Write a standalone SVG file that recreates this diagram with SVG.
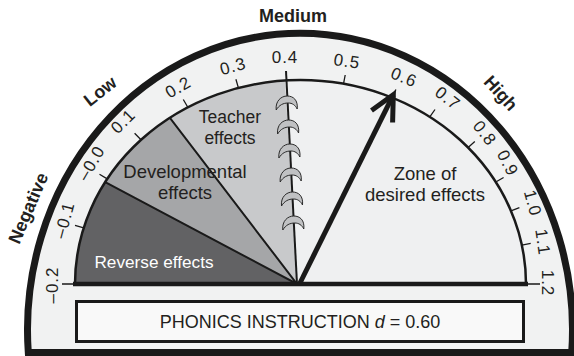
<svg xmlns="http://www.w3.org/2000/svg" width="574" height="356" viewBox="0 0 574 356">
<defs>
<style>
text{font-family:"Liberation Sans",Arial,Helvetica,sans-serif;fill:#231f20}
.cat{font-size:18px;font-weight:bold;text-anchor:middle}
.tk{font-size:17px;text-anchor:middle;letter-spacing:1px}
.lbl{font-size:17.5px;text-anchor:middle}
.ln{stroke:#1a1a1a;fill:none}
.hk{fill:#c0c1c3;stroke:#2a2a2a;stroke-width:1}
</style>
<clipPath id="inner"><path d="M75,284 A225.5 204 0 0 1 526,284 Z"/></clipPath>
<path id="hook" d="M-11,7 C-12,-2 -6,-7 0,-7 C6,-7 11,-3 10,6 C8,2 5,0 1,0 C-4,0 -8,2 -11,7 Z"/>
</defs>
<rect width="574" height="356" fill="#fff"/>
<g id="frame">
<path d="M28.3,352.5 A272.5 296.5 0 1 1 571.7,352.5 Z" fill="#f1f2f2" stroke="#1a1a1a" stroke-width="7"/>
</g>
<g id="zones" clip-path="url(#inner)">
<path d="M75,284 A225.5 204 0 0 1 526,284 Z" fill="#eff0f1"/>
<polygon id="reverse-zone" points="297,284 -300,284 -273,-19" fill="#626264"/>
<polygon id="developmental-zone" points="297,284 -273,-19 -84,-214" fill="#a5a6a8"/>
<polygon id="teacher-zone" points="297,284 -84,-214 261,-328" fill="#c8c9cb"/>
<path class="ln" stroke-width="2" d="M297,284 L-273,-19 M297,284 L-84,-214"/>
</g>
<g id="scale">
<path class="ln" stroke-width="2.5" d="M75,284 A225.5 204 0 0 1 526,284"/>
<path class="ln" stroke-width="1.3" d="M75,284 L62,284 M83.7,227.8 L75,225.3 M107.2,178.9 L99.5,174.3 M141,139.7 L134.6,133.3 M187.8,107.3 L183.3,99.5 M238.4,87.9 L235.9,79.2 M343.5,83.8 L345.2,75 M392.2,97.6 L395.9,89.4 M429.8,116.9 L435,109.5 M468.1,147.5 L474.8,141.5 M495.8,182 L503.6,177.5 M511,210.9 L519.4,207.7 M521.9,245.1 L530.7,243.4 M526,284 L540,284"/>
<line class="ln" x1="73" y1="284" x2="528" y2="284" stroke-width="4.5"/>
</g>
<g id="ribbon">
<line class="ln" x1="297" y1="284" x2="286" y2="71" stroke-width="2"/>
<use href="#hook" class="hk" x="287.2" y="103"/>
<use href="#hook" class="hk" x="288.6" y="127"/>
<use href="#hook" class="hk" x="289.9" y="151"/>
<use href="#hook" class="hk" x="291.2" y="175"/>
<use href="#hook" class="hk" x="292.5" y="199"/>
<use href="#hook" class="hk" x="293.8" y="223"/>
</g>
<g id="connectors">
<line class="ln" x1="300" y1="283" x2="393.3" y2="94.8" stroke-width="5"/>
<polyline class="ln" points="371.5,110.5 393.3,94.8 392.6,122.5" stroke-width="5" stroke-linejoin="miter"/>
</g>
<g id="tick-labels">
<text class="tk" transform="translate(52,285) rotate(-90)" y="6">–0.2</text>
<text class="tk" transform="translate(64,220) rotate(-75)" y="6">–0.1</text>
<text class="tk" transform="translate(91,163) rotate(-60)" y="6">–0.0</text>
<text class="tk" transform="translate(123,121) rotate(-45)" y="6">0.1</text>
<text class="tk" transform="translate(178,87) rotate(-30)" y="6">0.2</text>
<text class="tk" transform="translate(233,66) rotate(-15)" y="6">0.3</text>
<text class="tk" transform="translate(285,57)" y="6">0.4</text>
<text class="tk" transform="translate(347,61) rotate(8)" y="6">0.5</text>
<text class="tk" transform="translate(404,77) rotate(22)" y="6">0.6</text>
<text class="tk" transform="translate(448,98) rotate(38)" y="6">0.7</text>
<text class="tk" transform="translate(485,133) rotate(52)" y="6">0.8</text>
<text class="tk" transform="translate(508,163) rotate(63)" y="6">0.9</text>
<text class="tk" transform="translate(533,203) rotate(75)" y="6">1.0</text>
<text class="tk" transform="translate(543,242) rotate(82)" y="6">1.1</text>
<text class="tk" transform="translate(548,283) rotate(90)" y="6">1.2</text>
</g>
<g id="category-labels">
<text class="cat" x="293" y="22">Medium</text>
<text class="cat" transform="translate(100,91) rotate(-38)" y="6.4">Low</text>
<text class="cat" transform="translate(501,93) rotate(48)" y="6.4">High</text>
<text class="cat" transform="translate(28,208) rotate(-67)" y="6.4">Negative</text>
</g>
<g id="node-teacher">
<text class="lbl" x="230" y="123">Teacher</text>
<text class="lbl" x="230" y="144">effects</text>
</g>
<g id="node-developmental">
<text class="lbl" x="185" y="178" style="font-size:18.5px">Developmental</text>
<text class="lbl" x="185" y="199" style="font-size:18.5px">effects</text>
</g>
<g id="node-reverse">
<text class="lbl" x="154" y="268" style="font-size:17.2px;fill:#fff">Reverse effects</text>
</g>
<g id="node-zone">
<text class="lbl" x="425" y="180" style="font-size:18.5px">Zone of</text>
<text class="lbl" x="425" y="201" style="font-size:18.5px">desired effects</text>
</g>
<g id="node-box">
<rect x="76.5" y="301.5" width="447" height="40" fill="#f9f9f9" stroke="#1a1a1a" stroke-width="3"/>
<text x="300" y="328" style="font-size:18px;text-anchor:middle">PHONICS INSTRUCTION <tspan font-style="italic">d</tspan> = 0.60</text>
</g>
</svg>
